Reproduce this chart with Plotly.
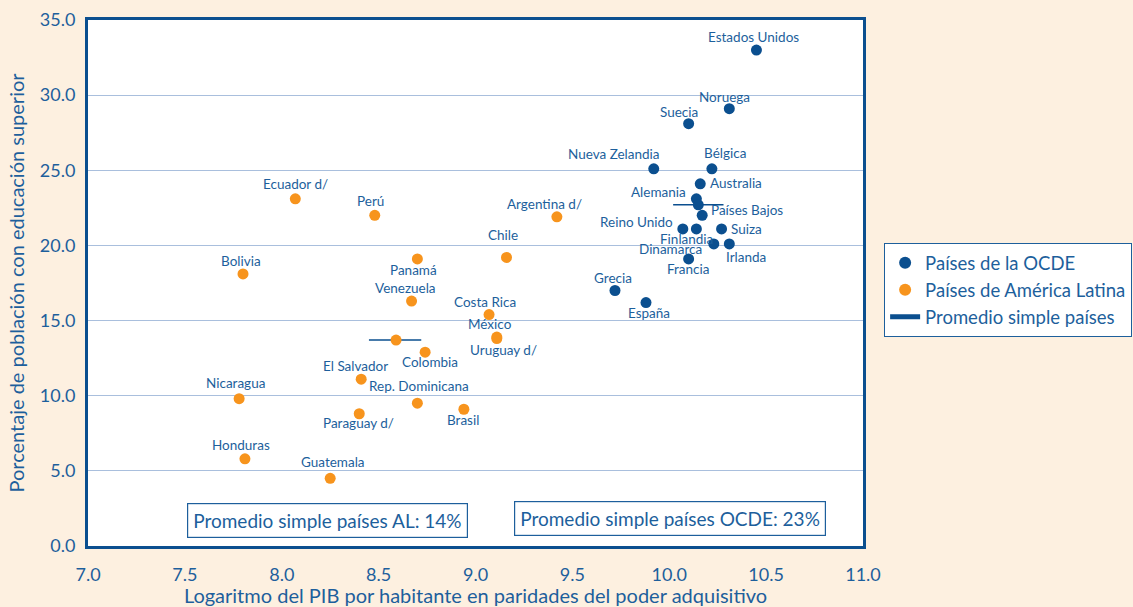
import plotly.graph_objects as go

# Países de la OCDE
ocde_paises = ["Estados Unidos", "Noruega", "Suecia", "Nueva Zelandia", "Bélgica", "Australia",
               "Alemania", "", "Países Bajos", "Reino Unido", "Finlandia", "Suiza",
               "Dinamarca", "Irlanda", "Francia", "Grecia", "España"]
ocde_pib = [10.45, 10.31, 10.10, 9.92, 10.22, 10.16, 10.14, 10.15, 10.17, 10.07, 10.14, 10.27,
            10.23, 10.31, 10.10, 9.72, 9.88]
ocde_edu = [33.0, 29.1, 28.1, 25.1, 25.1, 24.1, 23.1, 22.7, 22.0, 21.1, 21.1, 21.1,
            20.1, 20.1, 19.1, 17.0, 16.2]

# Países de América Latina
al_paises = ["Ecuador d/", "Perú", "Argentina d/", "Chile", "Bolivia", "Panamá", "Venezuela",
             "Costa Rica", "México", "Uruguay d/", "Colombia", "", "El Salvador", "Nicaragua",
             "Rep. Dominicana", "Paraguay d/", "Brasil", "Honduras", "Guatemala"]
al_pib = [8.07, 8.48, 9.42, 9.16, 7.80, 8.70, 8.67, 9.07, 9.11, 9.11, 8.74, 8.59, 8.41, 7.78,
          8.70, 8.40, 8.94, 7.81, 8.25]
al_edu = [23.1, 22.0, 21.9, 19.2, 18.1, 19.1, 16.3, 15.4, 13.9, 13.8, 12.9, 13.7, 11.1, 9.8,
          9.5, 8.8, 9.1, 5.8, 4.5]

# Promedio simple (línea horizontal)
prom_al_x = [8.45, 8.72]
prom_al_y = [13.7, 13.7]
prom_ocde_x = [10.02, 10.28]
prom_ocde_y = [22.7, 22.7]

# desplazamiento de etiquetas en pixeles (dx, dy hacia abajo)
ocde_dx = [-3, -5, -10, -40, 13, 36, -38, 0, 45, -46, -10, 25, -43, 17, 0, -2, 3]
ocde_dy = [-13, -12, -12, -15, -16, -1, -7, 0, -5, -7, 10, 0, 5, 13, 10, -13, 10]
al_dx = [0, -4, -12, -4, -2, -4, -6, -4, -7, 7, 5, 0, -6, -4, 2, -1, -1, -4, 3]
al_dy = [-15, -14, -13, -22, -13, 11, -13, -13, -13, 11, 10, 0, -13, -16, -17, 9, 11, -14, -16]

azul = "#0b4f8f"
texto = "#1d5f9c"
naranja = "#f7941d"
fondo = "#fdf0e0"
fuente = "Lato"

fig = go.Figure()
fig.add_trace(go.Scatter(x=prom_ocde_x, y=prom_ocde_y, mode="lines",
                         line=dict(color=azul, width=1.5), showlegend=False, hoverinfo="skip"))
fig.add_trace(go.Scatter(x=prom_al_x, y=prom_al_y, mode="lines",
                         line=dict(color=azul, width=1.5), showlegend=False, hoverinfo="skip"))
fig.add_trace(go.Scatter(x=ocde_pib, y=ocde_edu, mode="markers", name="Países de la OCDE",
                         text=ocde_paises, marker=dict(color=azul, size=11)))
fig.add_trace(go.Scatter(x=al_pib, y=al_edu, mode="markers", name="Países de América Latina",
                         text=al_paises, marker=dict(color=naranja, size=11)))
fig.add_trace(go.Scatter(x=[None], y=[None], mode="lines", name="Promedio simple países",
                         line=dict(color=azul, width=1.2)))

for nombres, xs, ys, dxs, dys in [(ocde_paises, ocde_pib, ocde_edu, ocde_dx, ocde_dy),
                                  (al_paises, al_pib, al_edu, al_dx, al_dy)]:
    for n, x, y, dx, dy in zip(nombres, xs, ys, dxs, dys):
        if n:
            fig.add_annotation(x=x, y=y, text=n, showarrow=False, xshift=dx, yshift=-dy,
                               font=dict(size=13.5, color=texto, family=fuente))

fig.add_annotation(x=8.238, y=1.73, text="Promedio simple países AL: 14%", showarrow=False,
                   font=dict(size=19, color=texto, family=fuente), bordercolor=texto,
                   borderwidth=1.2, borderpad=5, bgcolor="white")
fig.add_annotation(x=10.005, y=1.83, text="Promedio simple países OCDE: 23%", showarrow=False,
                   font=dict(size=19, color=texto, family=fuente), bordercolor=texto,
                   borderwidth=1.2, borderpad=5, bgcolor="white")

fig.update_xaxes(range=[7, 11], dtick=0.5, tickformat=".1f", showgrid=False, zeroline=False,
                 showline=True, mirror=True, linecolor=azul, linewidth=3,
                 ticks="outside", ticklen=10, tickcolor=fondo,
                 tickfont=dict(size=18, color=texto, family=fuente),
                 title=dict(text="Logaritmo del PIB por habitante en paridades del poder adquisitivo",
                            font=dict(size=20, color=texto, family=fuente), standoff=4))
fig.update_yaxes(range=[0, 35], dtick=5, tickformat=".1f", showgrid=True, gridcolor="#a9bfdd",
                 gridwidth=1.2, zeroline=False, showline=True, mirror=True, linecolor=azul,
                 linewidth=3, ticks="outside", ticklen=6, tickcolor=fondo,
                 tickfont=dict(size=18, color=texto, family=fuente),
                 title=dict(text="Porcentaje de población con educación superior",
                            font=dict(size=20, color=texto, family=fuente), standoff=10))

fig.update_layout(
    width=1133, height=607,
    paper_bgcolor=fondo, plot_bgcolor="white",
    margin=dict(l=88, r=270, t=20, b=61, autoexpand=False),
    font=dict(family=fuente, color=texto),
    legend=dict(x=1.027, y=0.576, xanchor="left", yanchor="top", bgcolor="white",
                bordercolor=texto, borderwidth=1.2, font=dict(size=18.5, color=texto, family=fuente),
                tracegroupgap=0, itemsizing="constant"),
)

fig.write_html("out.html", config={"displayModeBar": False},
               post_script="document.body.style.margin='0';")
